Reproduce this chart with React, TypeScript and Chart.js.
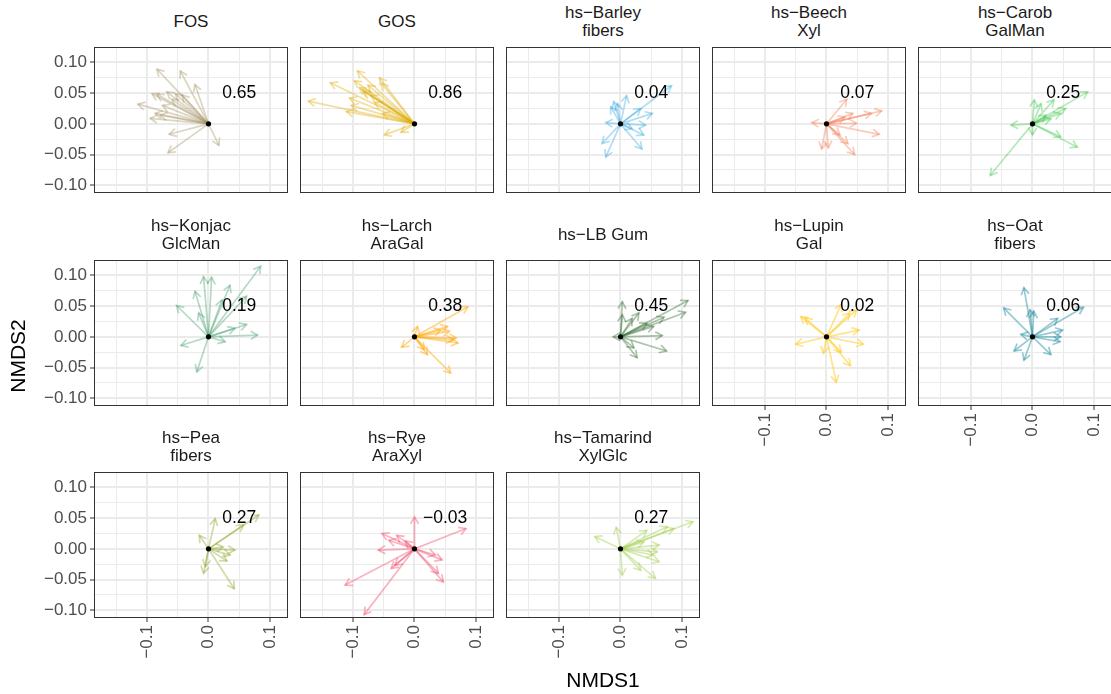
import React, { useEffect, useRef } from 'react';
import { Chart, registerables } from 'chart.js';

Chart.register(...registerables);

// ---- data ----
const stripTitles: string[][] = [
  ['FOS'], ['GOS'], ['hs−Barley', 'fibers'], ['hs−Beech', 'Xyl'], ['hs−Carob', 'GalMan'],
  ['hs−Konjac', 'GlcMan'], ['hs−Larch', 'AraGal'], ['hs−LB Gum'], ['hs−Lupin', 'Gal'], ['hs−Oat', 'fibers'],
  ['hs−Pea', 'fibers'], ['hs−Rye', 'AraXyl'], ['hs−Tamarind', 'XylGlc'],
];

const statValues = [0.65, 0.86, 0.04, 0.07, 0.25, 0.19, 0.38, 0.45, 0.02, 0.06, 0.27, -0.03, 0.27];

const panelColors = [
  'rgba(163,145,98,0.38)', 'rgba(221,170,0,0.38)', 'rgba(63,169,224,0.4)', 'rgba(244,117,79,0.38)',
  'rgba(53,194,63,0.36)', 'rgba(62,154,106,0.38)', 'rgba(255,165,0,0.45)', 'rgba(47,107,47,0.4)',
  'rgba(255,196,0,0.45)', 'rgba(26,138,158,0.45)', 'rgba(138,165,38,0.4)', 'rgba(238,69,99,0.4)',
  'rgba(167,209,86,0.45)',
];

const fosArrows = [[-0.084,0.089],[-0.046,0.086],[-0.022,0.064],[-0.115,0.032],[-0.092,0.049],[-0.084,0.048],[-0.068,0.052],[-0.054,0.049],[-0.043,0.047],[-0.095,0.009],[-0.087,0.017],[-0.079,0.014],[-0.064,-0.017],[-0.066,-0.047],[0.017,-0.035],[-0.060,0.040],[-0.075,0.030]];
const gosArrows = [[-0.173,0.037],[-0.137,0.067],[-0.093,0.086],[-0.057,0.075],[-0.098,0.070],[-0.090,0.059],[-0.106,0.042],[-0.111,0.020],[-0.082,0.052],[-0.071,0.047],[-0.049,-0.018],[-0.022,-0.014],[-0.052,0.017],[-0.103,0.030],[-0.076,0.063],[-0.085,0.055],[-0.054,0.066],[-0.065,0.035]];
const barleyArrows = [[0.083,0.062],[0.052,0.017],[0.033,0.025],[0.041,-0.002],[0.038,-0.018],[0.035,-0.041],[-0.024,-0.054],[-0.030,-0.032],[-0.024,0.002],[-0.011,0.036],[0.010,0.046],[-0.016,0.028],[-0.005,0.033],[0.019,-0.008]];
const beechArrows = [[0.033,0.040],[0.090,0.021],[0.073,0.017],[0.043,0.017],[0.049,0.001],[0.086,-0.017],[0.046,-0.050],[0.035,-0.032],[0.003,-0.039],[-0.008,-0.041],[-0.024,0.002],[0.030,0.011],[0.022,-0.018]];
const carobArrows = [[0.090,0.052],[0.054,0.025],[0.046,0.017],[0.035,0.039],[0.003,0.039],[0.014,0.033],[-0.035,-0.002],[0.000,-0.018],[0.073,-0.038],[0.046,-0.021],[-0.069,-0.084],[0.030,0.008],[0.022,0.014]];
const konjacArrows = [[0.085,0.115],[-0.008,0.098],[0.005,0.097],[-0.022,0.074],[0.035,0.084],[-0.052,0.051],[0.062,0.066],[-0.016,0.039],[-0.045,-0.014],[-0.019,-0.057],[0.080,0.003],[0.062,0.020],[0.043,0.014],[0.027,-0.008],[0.022,0.060]];
const larchArrows = [[0.087,0.049],[0.054,0.017],[0.057,0.009],[0.068,-0.002],[0.071,-0.010],[0.063,-0.005],[0.059,-0.059],[0.021,-0.029],[0.016,-0.021],[-0.021,-0.017],[0.005,0.017],[0.043,0.011]];
const lbGumArrows = [[0.110,0.059],[0.106,0.040],[0.071,0.032],[0.003,0.057],[0.003,0.036],[0.030,0.039],[0.068,0.002],[0.075,-0.023],[0.027,-0.034],[-0.012,0.000],[0.054,0.017],[0.043,0.022],[0.019,0.030],[0.022,-0.018]];
const lupinArrows = [[0.024,0.053],[0.049,0.044],[0.038,0.039],[-0.042,0.033],[-0.035,0.031],[0.053,0.011],[0.060,-0.012],[-0.050,-0.012],[-0.005,-0.027],[0.024,-0.025],[0.039,-0.047],[0.016,-0.074]];
const oatArrows = [[-0.014,0.080],[-0.047,0.047],[-0.004,0.044],[0.002,0.042],[0.083,0.048],[0.041,0.030],[0.049,0.011],[0.045,-0.008],[0.030,-0.029],[-0.014,-0.038],[-0.030,-0.023],[-0.019,0.004],[0.046,0.000]];
const peaArrows = [[0.082,0.055],[0.057,0.039],[0.011,0.049],[-0.015,0.022],[0.043,-0.002],[0.035,-0.010],[0.030,-0.020],[0.042,-0.065],[-0.008,-0.040],[-0.005,-0.029],[0.024,0.003]];
const ryeArrows = [[0.084,0.033],[0.000,0.052],[-0.113,-0.059],[-0.082,-0.107],[-0.038,-0.032],[0.047,-0.054],[0.039,-0.040],[0.045,-0.018],[0.034,-0.010],[-0.059,-0.002],[-0.053,0.025],[-0.029,0.022],[-0.042,0.014],[-0.015,0.013],[-0.032,-0.027]];
const tamarindArrows = [[0.118,0.044],[0.087,0.033],[0.076,0.036],[0.063,0.006],[0.060,-0.005],[0.063,-0.021],[0.057,-0.048],[0.033,-0.035],[0.003,-0.043],[-0.007,0.035],[-0.042,0.020],[0.043,0.030],[0.038,0.011],[0.054,-0.010]];

const panelArrows = [fosArrows, gosArrows, barleyArrows, beechArrows, carobArrows, konjacArrows, larchArrows, lbGumArrows, lupinArrows, oatArrows, peaArrows, ryeArrows, tamarindArrows];

const xGridValues = [-0.15, -0.1, -0.05, 0, 0.05, 0.1];
const yGridValues = [-0.1, -0.075, -0.05, -0.025, 0, 0.025, 0.05, 0.075, 0.1, 0.125];
const xRange = [-0.1865, 0.1295];
const yRange = [-0.1125, 0.125];
const statPos = [0.05, 0.05];

// ---- layout ----
const PANEL_W = 194;
const PANEL_H = 146;
const COL_LEFT = [94, 300, 506, 712, 918];
const ROW_TOP = [47, 260, 472];
const AX_W = 50;
const AX_H = 45;
const FONT = '"Liberation Sans", Arial, Helvetica, sans-serif';

const isMajorX = (v: number) => Math.abs(v * 10 - Math.round(v * 10)) < 1e-6;
const isMajorY = (v: number) => Math.abs(v * 20 - Math.round(v * 20)) < 1e-6;
const fmt = (v: number, d: number) => (v < -1e-9 ? '−' : '') + Math.abs(v).toFixed(d);

function Panel({ index }: { index: number }) {
  const ref = useRef<HTMLCanvasElement>(null);
  const col = index % 5;
  const row = Math.floor(index / 5);
  const showY = col === 0;
  const showX = index >= 8;

  useEffect(() => {
    const color = panelColors[index];
    const label = fmt(statValues[index], 2);
    const plugin = {
      id: 'arrowDecor' + index,
      afterDatasetsDraw(chart: any) {
        const ctx = chart.ctx;
        const xs = chart.scales.x;
        const ys = chart.scales.y;
        ctx.save();
        const ca = chart.chartArea;
        ctx.beginPath();
        ctx.rect(ca.left, ca.top, ca.right - ca.left, ca.bottom - ca.top);
        ctx.clip();
        chart.data.datasets.forEach((ds: any, i: number) => {
          const meta = chart.getDatasetMeta(i);
          const p0 = meta.data[0];
          const p1 = meta.data[1];
          if (!p0 || !p1) return;
          const ang = Math.atan2(p1.y - p0.y, p1.x - p0.x);
          const L = 8;
          const a = Math.PI / 6;
          ctx.strokeStyle = ds.borderColor;
          ctx.lineWidth = ds.borderWidth;
          ctx.lineJoin = 'miter';
          ctx.beginPath();
          ctx.moveTo(p1.x - L * Math.cos(ang - a), p1.y - L * Math.sin(ang - a));
          ctx.lineTo(p1.x, p1.y);
          ctx.lineTo(p1.x - L * Math.cos(ang + a), p1.y - L * Math.sin(ang + a));
          ctx.stroke();
        });
        const cx = xs.getPixelForValue(0);
        const cy = ys.getPixelForValue(0);
        ctx.fillStyle = '#000';
        ctx.beginPath();
        ctx.arc(cx, cy, 2.6, 0, Math.PI * 2);
        ctx.fill();
        ctx.font = '17.5px ' + FONT;
        ctx.textAlign = 'center';
        ctx.textBaseline = 'middle';
        ctx.fillText(label, xs.getPixelForValue(statPos[0]), ys.getPixelForValue(statPos[1]));
        ctx.restore();
      },
      afterDraw(chart: any) {
        const ctx = chart.ctx;
        const ca = chart.chartArea;
        ctx.save();
        ctx.strokeStyle = '#333333';
        ctx.lineWidth = 1;
        ctx.strokeRect(Math.round(ca.left) + 0.5, Math.round(ca.top) + 0.5, Math.round(ca.right - ca.left) - 1, Math.round(ca.bottom - ca.top) - 1);
        ctx.restore();
      },
    };

    const chart = new Chart(ref.current as HTMLCanvasElement, {
      type: 'scatter',
      data: {
        datasets: panelArrows[index].map((p) => ({
          data: [{ x: 0, y: 0 }, { x: p[0], y: p[1] }],
          showLine: true,
          borderColor: color,
          backgroundColor: color,
          borderWidth: 1.7,
          pointRadius: 0,
          pointHoverRadius: 0,
        })),
      },
      options: {
        animation: false,
        responsive: false,
        events: [],
        layout: { padding: { top: 2, right: 2, left: 0, bottom: 0 }, autoPadding: false },
        plugins: { legend: { display: false }, tooltip: { enabled: false } },
        scales: {
          x: {
            type: 'linear',
            min: xRange[0],
            max: xRange[1],
            afterBuildTicks: (s: any) => { s.ticks = xGridValues.map((v) => ({ value: v })); },
            afterFit: (s: any) => { s.height = AX_H; s.paddingLeft = 0; s.paddingRight = 0; },
            border: { display: false },
            grid: {
              color: '#EBEBEB',
              lineWidth: (c: any) => (c.tick && isMajorX(c.tick.value) ? 2 : 1),
              drawTicks: showX,
              tickLength: 4,
              tickWidth: 1,
              tickColor: (c: any) => (c.tick && isMajorX(c.tick.value) ? '#333333' : 'rgba(0,0,0,0)'),
            },
            ticks: {
              display: showX,
              autoSkip: false,
              minRotation: 90,
              maxRotation: 90,
              padding: 3,
              color: '#4D4D4D',
              font: { family: FONT, size: 17 },
              callback: (v: any) => (isMajorX(Number(v)) ? fmt(Number(v), 1) : ''),
            },
          },
          y: {
            type: 'linear',
            min: yRange[0],
            max: yRange[1],
            afterBuildTicks: (s: any) => { s.ticks = yGridValues.map((v) => ({ value: v })); },
            afterFit: (s: any) => { s.width = AX_W; s.paddingTop = 0; s.paddingBottom = 0; },
            border: { display: false },
            grid: {
              color: '#EBEBEB',
              lineWidth: (c: any) => (c.tick && isMajorY(c.tick.value) ? 2 : 1),
              drawTicks: showY,
              tickLength: 4,
              tickWidth: 1,
              tickColor: (c: any) => (c.tick && isMajorY(c.tick.value) && Math.abs(c.tick.value) < 0.11 ? '#333333' : 'rgba(0,0,0,0)'),
            },
            ticks: {
              display: showY,
              autoSkip: false,
              padding: 3,
              color: '#4D4D4D',
              font: { family: FONT, size: 17 },
              callback: (v: any) => (isMajorY(Number(v)) && Math.abs(Number(v)) < 0.11 ? fmt(Number(v), 2) : ''),
            },
          },
        },
      } as any,
      plugins: [plugin],
    });
    return () => chart.destroy();
  }, [index]);

  const left = COL_LEFT[col];
  const top = ROW_TOP[row];
  const title = stripTitles[index];
  return (
    <>
      <div
        style={{
          position: 'absolute',
          left,
          top: top - 47,
          width: PANEL_W,
          height: 43,
          display: 'flex',
          flexDirection: 'column',
          justifyContent: 'center',
          alignItems: 'center',
          fontFamily: FONT,
          fontSize: 17,
          lineHeight: '18px',
          color: '#1A1A1A',
          whiteSpace: 'nowrap',
        }}
      >
        {title.map((t, i) => (
          <div key={i}>{t}</div>
        ))}
      </div>
      <canvas
        ref={ref}
        width={AX_W + PANEL_W + 2}
        height={PANEL_H + AX_H + 2}
        style={{ position: 'absolute', left: left - AX_W, top: top - 2, display: 'block' }}
      />
    </>
  );
}

export default function App() {
  return (
    <div
      style={{
        position: 'fixed',
        left: 0,
        top: 0,
        width: 1111,
        height: 694,
        background: '#ffffff',
        overflow: 'hidden',
      }}
    >
      {stripTitles.map((_, i) => (
        <Panel key={i} index={i} />
      ))}
      <div
        style={{
          position: 'absolute',
          left: 503,
          width: 200,
          top: 667,
          height: 26,
          lineHeight: '26px',
          textAlign: 'center',
          fontFamily: FONT,
          fontSize: 21,
          color: '#000',
        }}
      >
        NMDS1
      </div>
      <div
        style={{
          position: 'absolute',
          left: 18 - 100,
          top: 356 - 13,
          width: 200,
          height: 26,
          lineHeight: '26px',
          textAlign: 'center',
          fontFamily: FONT,
          fontSize: 21,
          color: '#000',
          transform: 'rotate(-90deg)',
        }}
      >
        NMDS2
      </div>
    </div>
  );
}
